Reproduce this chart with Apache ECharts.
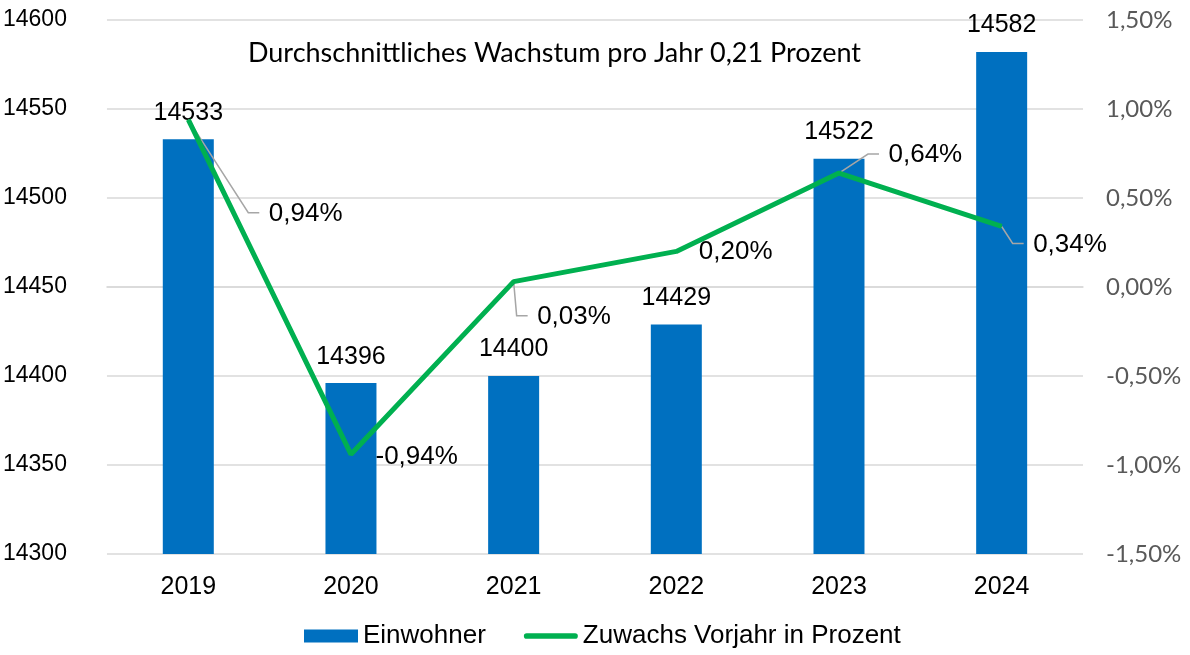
<!DOCTYPE html>
<html><head><meta charset="utf-8">
<script src="https://cdn.jsdelivr.net/npm/echarts@6/dist/echarts.min.js"></script>
<style>html,body{margin:0;padding:0;background:#fff}#c{width:1190px;height:655px}</style>
</head><body><div id="c"></div>
<script>
const categories = ['2019','2020','2021','2022','2023','2024'];
const einwohner = [14533, 14396, 14400, 14429, 14522, 14582];
const zuwachs = [0.94, -0.94, 0.03, 0.20, 0.64, 0.34];
const leftTicks = {min: 14300, max: 14600, interval: 50};
const rightTicks = {min: -1.5, max: 1.5, interval: 0.5};
const titleText = 'Durchschnittliches Wachstum pro Jahr 0,21 Prozent';
const seriesNames = ['Einwohner', 'Zuwachs Vorjahr in Prozent'];
// label offsets (dx, dy) for the percentage labels, and whether a leader line is drawn
const pctLabelOffsets = [[80,94],[24,3],[23,35],[22,0],[49,-18],[31,18]];
const pctLeader = [true, false, true, false, true, true];

const fmtPct = v => v.toFixed(2).replace('.', ',') + '%';
const leaderData = zuwachs.map((v, i) => [i, v]);
const chart = echarts.init(document.getElementById('c'));
chart.setOption({
  animation: false,
  title: {text: titleText, left: 243, top: 35,
    textStyle: {fontFamily: 'Lato', fontWeight: 'normal', fontSize: 27, color: '#000'}},
  grid: {left: 105, right: 107, top: 20, bottom: 101},
  legend: {bottom: 1, left: 299, itemGap: 38, itemWidth: 54, itemHeight: 13,
    textStyle: {fontFamily: 'Liberation Sans', fontSize: 26, color: '#000'},
    data: [{name: seriesNames[0], icon: 'rect'},
           {name: seriesNames[1], icon: 'path://M3,0H54A3,3 0 0 1 54,6H3A3,3 0 0 1 3,0Z'}]},
  xAxis: {type: 'category', data: categories,
    axisLine: {show: true, lineStyle: {color: '#D9D9D9', width: 1.5}}, axisTick: {show: false},
    axisLabel: {margin: 21, fontFamily: 'Liberation Sans', fontSize: 25, color: '#000'}},
  yAxis: [
    {type: 'value', min: leftTicks.min, max: leftTicks.max, interval: leftTicks.interval,
      axisLine: {show: false}, axisTick: {show: false},
      splitLine: {lineStyle: {color: '#D9D9D9', width: 1.5}},
      axisLabel: {margin: 40, fontFamily: 'Liberation Sans', fontSize: 23, color: '#000',
        formatter: v => String(v)}},
    {type: 'value', min: rightTicks.min, max: rightTicks.max, interval: rightTicks.interval,
      axisLine: {show: false}, axisTick: {show: false}, splitLine: {show: false},
      axisLabel: {margin: 23, align: 'left', fontFamily: 'Lato', fontSize: 24, color: '#595959',
        formatter: v => fmtPct(v)}}
  ],
  series: [
    {name: seriesNames[0], type: 'bar', data: einwohner, barWidth: 51,
      itemStyle: {color: '#0070C0'},
      label: {show: true, position: 'top', distance: 14, fontFamily: 'Liberation Sans', fontSize: 25, color: '#000'}},
    {name: 'leader', type: 'custom', yAxisIndex: 1, data: leaderData, z: 4, silent: true,
      renderItem: (params, api) => {
        const i = api.value(0);
        if (!pctLeader[i]) return null;
        const p = api.coord([i, api.value(1)]);
        const off = pctLabelOffsets[i];
        const endX = p[0] + off[0] - 9, y = p[1] + off[1] - 1;
        const midX = endX - 11;
        return {type: 'polyline', shape: {points: [p, [midX, y], [endX, y]]},
          style: {stroke: '#A6A6A6', lineWidth: 1.5, fill: null}};
      }},
    {name: seriesNames[1], type: 'line', yAxisIndex: 1, data: zuwachs,
      symbol: 'circle', symbolSize: 1, itemStyle: {color: '#00B050'},
      lineStyle: {color: '#00B050', width: 5}, z: 5,
      label: {show: true, position: 'right', distance: 0, fontFamily: 'Liberation Sans', fontSize: 26, color: '#000',
        formatter: p => fmtPct(p.value)},
      labelLayout: p => ({dx: pctLabelOffsets[p.dataIndex][0], dy: pctLabelOffsets[p.dataIndex][1]})}
  ]
});
</script></body></html>
